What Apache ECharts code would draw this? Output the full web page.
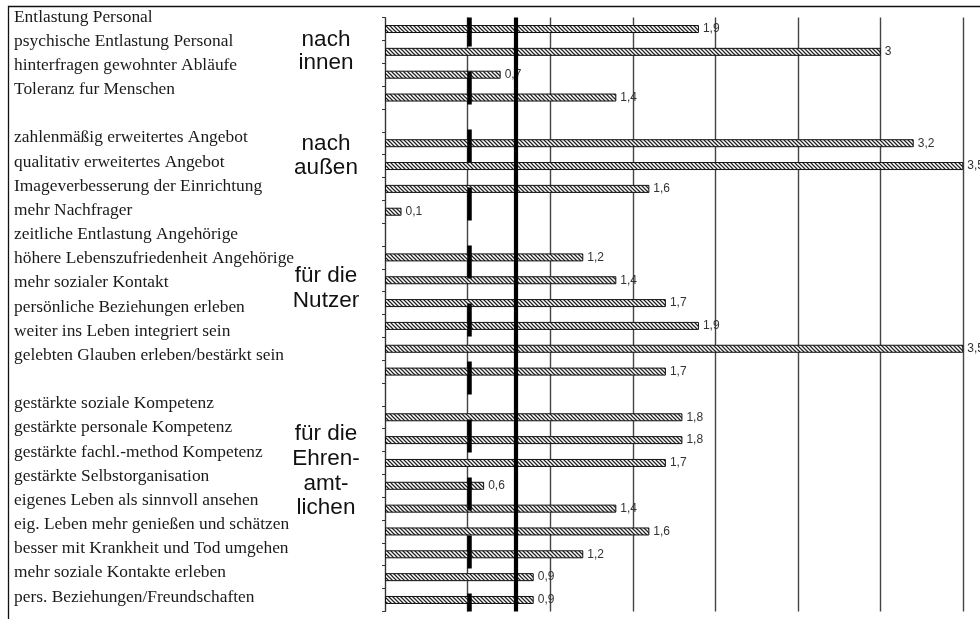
<!DOCTYPE html>
<html>
<head>
<meta charset="utf-8">
<script src="https://cdn.jsdelivr.net/npm/echarts@6/dist/echarts.min.js"></script>
<style>
html,body{margin:0;padding:0;background:#fff;}
#chart{width:980px;height:619px;}
</style>
</head>
<body>
<div id="chart"></div>
<script>
// ---- data ----
const labelsInnen = ['Entlastung Personal', 'psychische Entlastung Personal', 'hinterfragen gewohnter Abläufe', 'Toleranz fur Menschen'];
const valuesInnen = [1.9, 3, 0.7, 1.4];
const labelsAussen = ['zahlenmäßig erweitertes Angebot', 'qualitativ erweitertes Angebot', 'Imageverbesserung der Einrichtung', 'mehr Nachfrager'];
const valuesAussen = [3.2, 3.5, 1.6, 0.1];
const labelsNutzer = ['zeitliche Entlastung Angehörige', 'höhere Lebenszufriedenheit Angehörige', 'mehr sozialer Kontakt', 'persönliche Beziehungen erleben', 'weiter ins Leben integriert sein', 'gelebten Glauben erleben/bestärkt sein'];
const valuesNutzer = [1.2, 1.4, 1.7, 1.9, 3.5, 1.7];
const labelsEhren = ['gestärkte soziale Kompetenz', 'gestärkte personale Kompetenz', 'gestärkte fachl.-method Kompetenz', 'gestärkte Selbstorganisation', 'eigenes Leben als sinnvoll ansehen', 'eig. Leben mehr genießen und schätzen', 'besser mit Krankheit und Tod umgehen', 'mehr soziale Kontakte erleben', 'pers. Beziehungen/Freundschaften'];
const valuesEhren = [1.8, 1.8, 1.7, 0.6, 1.4, 1.6, 1.2, 0.9, 0.9];
const groupTitles = ['nach\ninnen', 'nach\naußen', 'für die\nNutzer', 'für die\nEhren-\namt-\nlichen'];
const refDashed = 0.51;
const refSolid = 0.79;
const xTicks = [0, 0.5, 1, 1.5, 2, 2.5, 3, 3.5];

// ---- build category lists ----
const GAP = '#gap';
const barCats = [], barVals = [];
function addGroup(labels, values) {
  labels.forEach((l, i) => { barCats.push(l); barVals.push(values[i]); });
}
function addGap(k) { barCats.push(GAP + k); barVals.push('-'); }
addGroup(labelsInnen, valuesInnen); addGap(1);
addGroup(labelsAussen, valuesAussen); addGap(2);
addGroup(labelsNutzer, valuesNutzer); addGap(3);
addGroup(labelsEhren, valuesEhren);

const textCats = [].concat(labelsInnen, [GAP + 'a'], labelsAussen, labelsNutzer, [GAP + 'b'], labelsEhren);

function hatch() {
  const c = document.createElement('canvas');
  c.width = 4; c.height = 4;
  const g = c.getContext('2d');
  g.fillStyle = '#ffffff'; g.fillRect(0, 0, 4, 4);
  g.strokeStyle = '#222'; g.lineWidth = 1.25;
  g.beginPath();
  g.moveTo(-1, -1); g.lineTo(5, 5);
  g.moveTo(-1, 3); g.lineTo(1, 5);
  g.moveTo(3, -1); g.lineTo(5, 1);
  g.stroke();
  return c;
}

const chart = echarts.init(document.getElementById('chart'), null, {renderer: 'canvas'});

const groupY = [51.5, 156, 288, 471];
const groupLH = [23.5, 24, 25, 24.7];

chart.setOption({
  animation: false,
  backgroundColor: '#ffffff',
  textStyle: {fontFamily: 'Liberation Sans'},
  grid: [
    {left: 385, right: 16.7, top: 17.6, bottom: 7.6, containLabel: false},
    {left: 4, width: 2, top: 4.9, bottom: 9.9, containLabel: false}
  ],
  xAxis: [
    {
      type: 'value', gridIndex: 0, min: xTicks[0], max: xTicks[xTicks.length - 1], interval: 0.5,
      axisLine: {show: false}, axisTick: {show: false}, axisLabel: {show: false},
      splitLine: {show: true, lineStyle: {color: '#444', width: 1.4}}
    },
    {type: 'value', gridIndex: 1, show: false}
  ],
  yAxis: [
    {
      type: 'category', gridIndex: 0, inverse: true, data: barCats,
      axisLine: {show: true, lineStyle: {color: '#333', width: 1}},
      axisTick: {show: true, length: 3, lineStyle: {color: '#333'}},
      axisLabel: {show: false}
    },
    {
      type: 'category', gridIndex: 1, inverse: true, data: textCats, position: 'right',
      axisLine: {show: false}, axisTick: {show: false},
      axisLabel: {
        show: true, interval: 0, margin: 8, align: 'left',
        fontFamily: 'Liberation Serif', fontSize: 17.4, color: '#1a1a1a',
        formatter: v => v.indexOf(GAP) === 0 ? '' : v
      }
    }
  ],
  series: [
    {
      type: 'bar', xAxisIndex: 0, yAxisIndex: 0, data: barVals, barWidth: 8,
      itemStyle: {color: {image: hatch(), repeat: 'repeat'}, borderColor: '#111', borderWidth: 1},
      label: {
        show: true, position: 'right', distance: 4, fontSize: 12, color: '#333',
        fontFamily: 'Liberation Sans',
        formatter: p => String(p.value).replace('.', ',')
      },
      markLine: {
        silent: true, symbol: 'none', label: {show: false},
        data: [
          {xAxis: refDashed, lineStyle: {color: '#000', width: 4.5, type: [33, 25], dashOffset: 4}},
          {xAxis: refSolid, lineStyle: {color: '#000', width: 4.2, type: 'solid'}}
        ]
      }
    }
  ],
  graphic: [
    {type: 'rect', shape: {x: 8.5, y: 6.5, width: 1200, height: 1200}, style: {fill: null, stroke: '#111', lineWidth: 1.3}, silent: true}
  ].concat(groupTitles.map((t, i) => ({
    type: 'text', x: 326, y: groupY[i],
    style: {text: t, textAlign: 'center', textVerticalAlign: 'middle', font: '22.5px "Liberation Sans"', fill: '#111', lineHeight: groupLH[i]}
  })))
});
</script>
</body>
</html>
